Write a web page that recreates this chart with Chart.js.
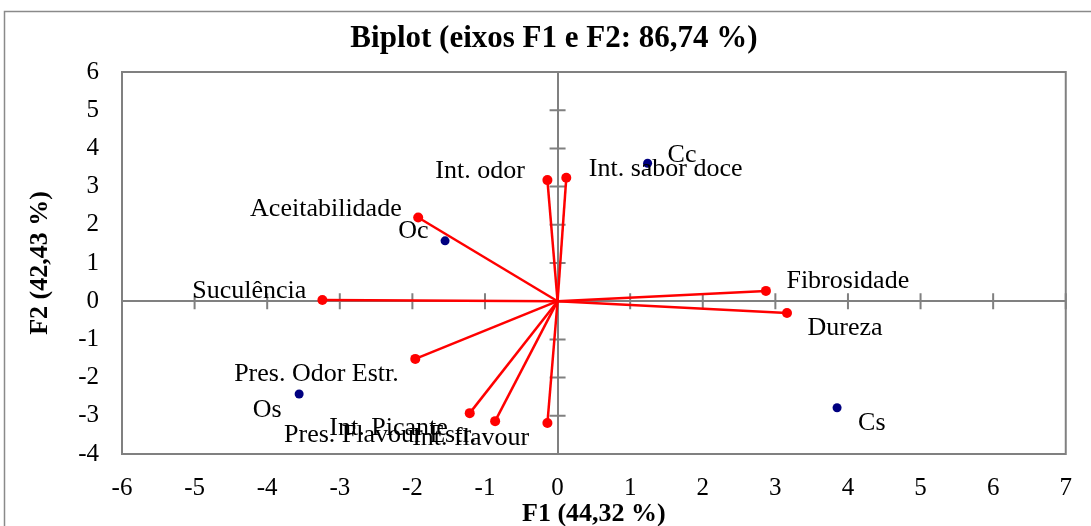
<!DOCTYPE html>
<html>
<head>
<meta charset="utf-8">
<script src="https://cdn.jsdelivr.net/npm/chart.js@4/dist/chart.umd.min.js"></script>
<style>
  html, body { margin: 0; padding: 0; background: #ffffff; overflow: hidden; }
  #wrap { position: relative; width: 1091px; height: 526px; }
</style>
</head>
<body>
<div id="wrap"><canvas id="biplot" width="1091" height="526"></canvas></div>
<script>
// Variables (vectors from the origin)
const variableNames = ['Suculência', 'Aceitabilidade', 'Int. odor', 'Int. sabor doce', 'Fibrosidade',
                       'Dureza', 'Pres. Odor Estr.', 'Int. Picante', 'Pres. Flavour Estr.', 'Int. flavour'];
const variableF1 = [-3.24, -1.92, -0.14, 0.12, 2.87, 3.16, -1.96, -1.21, -0.86, -0.14];
const variableF2 = [0.03, 2.19, 3.17, 3.23, 0.27, -0.31, -1.51, -2.93, -3.14, -3.19];

// Observations
const observationNames = ['Cc', 'Oc', 'Os', 'Cs'];
const observationF1 = [1.24, -1.55, -3.56, 3.85];
const observationF2 = [3.61, 1.58, -2.43, -2.79];

// Axis ticks
const f1Ticks = [-6, -5, -4, -3, -2, -1, 0, 1, 2, 3, 4, 5, 6, 7];
const f2Ticks = [-4, -3, -2, -1, 0, 1, 2, 3, 4, 5, 6];

const titleText = 'Biplot (eixos F1 e F2: 86,74 %)';
const xTitleText = 'F1 (44,32 %)';
const yTitleText = 'F2 (42,43 %)';

// Label placement next to each point: [dx, dy (baseline), align]
const labelPlacement = {
  'Suculência':          [-16, -2.5, 'right'],
  'Aceitabilidade':      [-16.5, -1.7, 'right'],
  'Int. odor':           [-22.5, -2.3, 'right'],
  'Int. sabor doce':     [22.5, -2, 'left'],
  'Fibrosidade':         [20.5, -2.7, 'left'],
  'Dureza':              [20.5, 22, 'left'],
  'Pres. Odor Estr.':    [-16.5, 21.7, 'right'],
  'Int. Picante':        [-22, 21.7, 'right'],
  'Pres. Flavour Estr.': [-19, 20.7, 'right'],
  'Int. flavour':        [-18.3, 21.6, 'right'],
  'Cc':                  [20, -1.6, 'left'],
  'Oc':                  [-16.4, -2.4, 'right'],
  'Os':                  [-17.6, 22.7, 'right'],
  'Cs':                  [21, 22.3, 'left']
};

const SERIF = "'Liberation Serif', 'Times New Roman', serif";
const AXIS_GRAY = '#808080';

const vectorDatasets = variableNames.map((name, i) => ({
  label: name,
  data: [{ x: 0, y: 0 }, { x: variableF1[i], y: variableF2[i] }],
  showLine: true,
  borderColor: '#ff0000',
  backgroundColor: '#ff0000',
  borderWidth: 2.5,
  pointRadius: [0, 5],
  pointBorderWidth: 0,
  pointHoverRadius: [0, 5],
  order: 1
}));

const observationDataset = {
  label: 'Observações',
  data: observationF1.map((v, i) => ({ x: v, y: observationF2[i] })),
  showLine: false,
  borderColor: '#000080',
  backgroundColor: '#000080',
  pointRadius: 4.5,
  pointBorderWidth: 0,
  pointHoverRadius: 4.5,
  order: 0
};

const zeroLine = c => (c.tick && c.tick.value === 0) ? AXIS_GRAY : 'rgba(0,0,0,0)';

const biplotDecor = {
  id: 'biplotDecor',
  beforeDraw(chart) {
    const ctx = chart.ctx;
    ctx.save();
    ctx.strokeStyle = '#8a8a8a';
    ctx.lineWidth = 1.5;
    ctx.strokeRect(4.5, 11.5, 1300, 700);
    ctx.restore();
  },
  beforeDatasetsDraw(chart) {
    const { ctx, chartArea: a, scales: { x, y } } = chart;
    const x0 = x.getPixelForValue(0);
    const y0 = y.getPixelForValue(0);
    ctx.save();
    ctx.strokeStyle = AXIS_GRAY;
    ctx.lineWidth = 2;
    ctx.strokeRect(a.left, a.top, a.right - a.left, a.bottom - a.top);
    ctx.beginPath();
    y.ticks.forEach(t => {
      const py = y.getPixelForValue(t.value);
      ctx.moveTo(x0 - 8, py); ctx.lineTo(x0 + 8, py);
    });
    x.ticks.forEach(t => {
      const px = x.getPixelForValue(t.value);
      ctx.moveTo(px, y0 - 8); ctx.lineTo(px, y0 + 8);
    });
    ctx.stroke();
    ctx.restore();
  },
  afterDatasetsDraw(chart) {
    const ctx = chart.ctx;
    ctx.save();
    ctx.fillStyle = '#000000';
    ctx.font = '26px ' + SERIF;
    ctx.textBaseline = 'alphabetic';
    const put = (name, el) => {
      const p = labelPlacement[name] || [10, -4, 'left'];
      ctx.textAlign = p[2];
      ctx.fillText(name, el.x + p[0], el.y + p[1]);
    };
    variableNames.forEach((name, i) => {
      const el = chart.getDatasetMeta(i).data[1];
      put(name, el);
    });
    const obsMeta = chart.getDatasetMeta(variableNames.length);
    observationNames.forEach((name, i) => put(name, obsMeta.data[i]));
    ctx.restore();
  },
  afterDraw(chart) {
    const { ctx, chartArea: a } = chart;
    ctx.save();
    ctx.fillStyle = '#000000';
    ctx.textAlign = 'center';
    ctx.textBaseline = 'alphabetic';
    ctx.font = 'bold 31px ' + SERIF;
    ctx.fillText(titleText, 554, 47);
    ctx.font = 'bold 26px ' + SERIF;
    ctx.fillText(xTitleText, (a.left + a.right) / 2, 521);
    ctx.translate(47, (a.top + a.bottom) / 2);
    ctx.rotate(-Math.PI / 2);
    ctx.fillText(yTitleText, 0, 0);
    ctx.restore();
  }
};

new Chart(document.getElementById('biplot'), {
  type: 'scatter',
  data: { datasets: [...vectorDatasets, observationDataset] },
  options: {
    responsive: false,
    animation: false,
    events: [],
    layout: { padding: { top: 72, right: 24, left: 0, bottom: 0 } },
    plugins: { legend: { display: false }, tooltip: { enabled: false }, title: { display: false } },
    scales: {
      x: {
        type: 'linear',
        min: f1Ticks[0],
        max: f1Ticks[f1Ticks.length - 1],
        afterBuildTicks: s => { s.ticks = f1Ticks.map(v => ({ value: v })); },
        afterFit: s => { s.height = 72; },
        grid: { color: zeroLine, lineWidth: 2, drawTicks: false },
        border: { display: false },
        ticks: { color: '#000000', font: { family: SERIF, size: 25 }, padding: 19, maxRotation: 0, autoSkip: false }
      },
      y: {
        type: 'linear',
        min: f2Ticks[0],
        max: f2Ticks[f2Ticks.length - 1],
        afterBuildTicks: s => { s.ticks = f2Ticks.map(v => ({ value: v })); },
        afterFit: s => { s.width = 122; },
        grid: { color: zeroLine, lineWidth: 2, drawTicks: false },
        border: { display: false },
        ticks: { color: '#000000', font: { family: SERIF, size: 25 }, padding: 23, autoSkip: false }
      }
    }
  },
  plugins: [biplotDecor]
});
</script>
</body>
</html>
